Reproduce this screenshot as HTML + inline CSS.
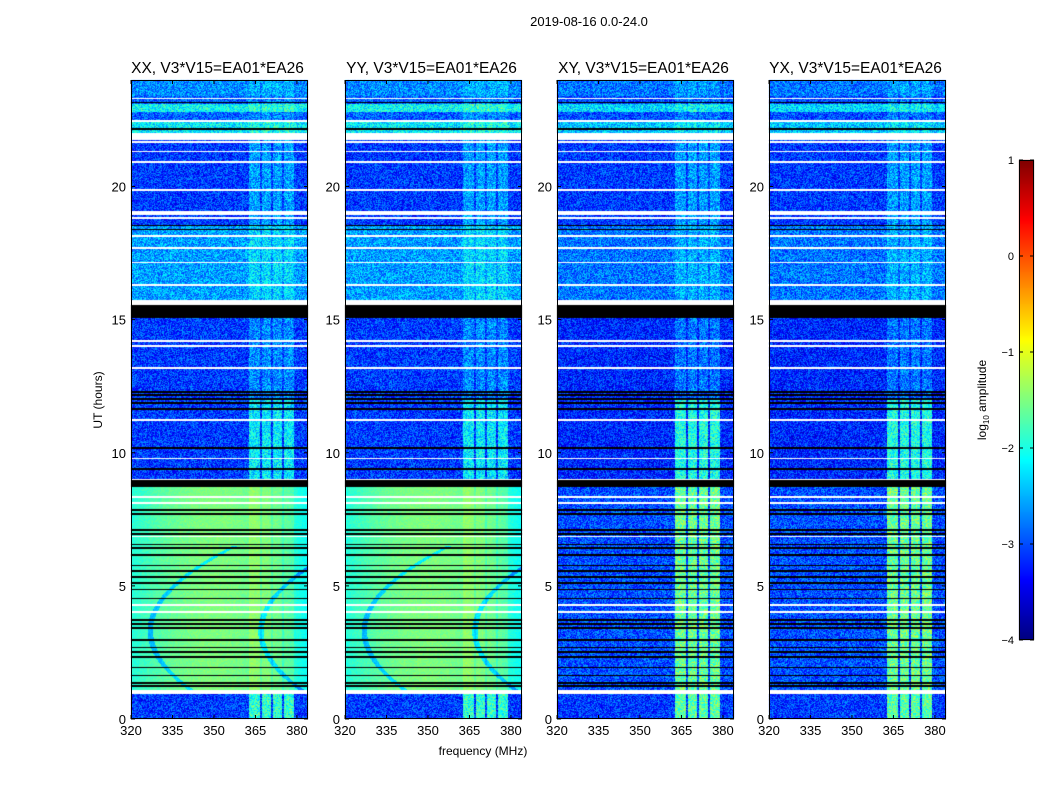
<!DOCTYPE html>
<html><head><meta charset="utf-8">
<style>
body{margin:0;background:#fff;width:1050px;height:800px;overflow:hidden;font-family:"Liberation Sans","DejaVu Sans",sans-serif;}
#root{position:relative;width:1050px;height:800px;}
canvas{position:absolute;}
svg{position:absolute;left:0;top:0;}
</style></head>
<body><div id="root">
<canvas id="cv" width="1050" height="800"></canvas>
<svg id="sv" width="1050" height="800"></svg>
</div>
<script>
// ---- data ----
const panelTitles = ["XX, V3*V15=EA01*EA26","YY, V3*V15=EA01*EA26","XY, V3*V15=EA01*EA26","YX, V3*V15=EA01*EA26"];
const panelIsCross = [false,false,true,true];
const xTicks = [320,335,350,365,380];
const yTicks = [0,5,10,15,20];
const cbTicks = [1,0,-1,-2,-3,-4];
// time segments (hours): start, end, parallel-hand level, cross-hand level, rfi boost par, rfi boost cross
const segStart = [23.4,23.1,22.8,22.5,22.0,18.55,15.74,12.0,9.0,1.1,0];
const segEnd   = [24,23.4,23.1,22.8,22.5,21.75,18.55,15.06,12.0,8.71,0.94];
const segPar   = [-2.7,-2.9,-2.1,-2.9,-2.2,-3.1,-2.6,-3.1,-3.1,-1.5,-3.1];
const segCross = [-2.8,-3.0,-2.3,-3.0,-2.4,-3.1,-2.8,-3.2,-3.2,-3.0,-3.1];
const segRfiPar   = [0.2,0.2,0.2,0.2,0.2,0.5,0.3,0.4,0.9,0.2,1.2];
const segRfiCross = [0.2,0.2,0.2,0.2,0.2,0.5,0.3,0.4,1.2,1.4,1.4];
// flagged lines (hours)
const whiteLines = [23.32,22.46,21.67,21.30,20.92,19.87,19.04,18.97,18.82,18.14,17.69,17.16,16.30,15.70,14.20,14.01,13.18,11.23,9.77,8.34,8.11,6.84,4.28,4.02];
const blackLines = [23.14,22.16,18.55,18.37,12.28,12.17,12.02,11.87,11.64,10.18,9.39,7.85,7.70,7.10,6.95,6.54,6.42,6.16,5.78,5.56,5.33,5.11,4.85,4.54,3.72,3.57,3.42,2.97,2.70,2.52,2.33,1.92,1.62,1.35,1.24];
const whiteBlocks = [[21.75,21.97],[15.55,15.65],[0.94,1.09]];
const blackBlocks = [[15.06,15.55],[8.71,8.98]];
// RFI frequency bands (MHz)
const rfiLo = [362.5,367.5,371.5,375.5];
const rfiHi = [366.5,370.5,374.5,379];

// ---- geometry ----
const panelLeft=[131,345,557,769], pW=177, pTop=80, pBot=719;
const fMin=320,fMax=384,tMin=0,tMax=24;
const xS=(f,i)=>panelLeft[i]+(f-fMin)/(fMax-fMin)*pW;
const yS=t=>pBot-(t-tMin)/(tMax-tMin)*(pBot-pTop);
const cbX=1019,cbW=15,cbTop=160,cbBot=640,vMin=-4,vMax=1;
const cbY=v=>cbBot-(v-vMin)/(vMax-vMin)*(cbBot-cbTop);

function jet(v){
  const c=x=>Math.max(0,Math.min(1,x));
  return [c(1.5-Math.abs(4*v-3)),c(1.5-Math.abs(4*v-2)),c(1.5-Math.abs(4*v-1))].map(a=>Math.round(a*255));
}
function hash(x,y){let h=(x*374761393+y*668265263)|0;h=(h^(h>>>13))*1274126177|0;return ((h^(h>>>16))>>>0)/4294967296;}

const ctx=document.getElementById('cv').getContext('2d');
const img=ctx.createImageData(1050,800);
function put(x,y,r,g,b){const k=(y*1050+x)*4;img.data[k]=r;img.data[k+1]=g;img.data[k+2]=b;img.data[k+3]=255;}
for(let p=0;p<4;p++){
  const cross=panelIsCross[p];
  for(let py=pTop;py<pBot;py++){
    const t=tMax-(py+0.5-pTop)/(pBot-pTop)*(tMax-tMin);
    let flag=null;
    for(const b of whiteBlocks) if(t>=b[0]&&t<=b[1]) flag='w';
    for(const b of blackBlocks) if(t>=b[0]&&t<=b[1]) flag='k';
    if(!flag){ for(const w of whiteLines) if(Math.abs(yS(w)-py-0.5)<0.6) flag='w';
      for(const w of blackLines) if(Math.abs(yS(w)-py-0.5)<0.6) flag='k';}
    let s=-1; for(let i=0;i<segStart.length;i++) if(t>=segStart[i]&&t<segEnd[i]){s=i;break;}
    if(!flag && s<0) flag='w';
    for(let px=panelLeft[p];px<panelLeft[p]+pW;px++){
      if(flag==='w'){put(px,py,255,255,255);continue;}
      if(flag==='k'){put(px,py,0,0,0);continue;}
      const f=fMin+(px+0.5-panelLeft[p])/pW*(fMax-fMin);
      let v=cross?segCross[s]:segPar[s];
      let inR=false; for(let j=0;j<rfiLo.length;j++) if(f>=rfiLo[j]&&f<=rfiHi[j]) inR=true;
      if(inR) v+=cross?segRfiCross[s]:segRfiPar[s];
      if(!cross && s===9){
        v+= -0.6*Math.pow(Math.abs((f-350)/34),2);
        const d1=Math.abs(f-(327+(t-3.3)*(t-3.3)*3.0)), d2=Math.abs(f-(367+(t-3.3)*(t-3.3)*3.0));
        if((d1<1.0||d2<1.0)&&t<6.5) v-=0.7;
        v+=(hash(px,py)-0.5)*0.25;
      } else v+=(hash(px*3+p,py)-0.5)*1.0;
      const u=Math.max(0,Math.min(1,(v-vMin)/(vMax-vMin)));
      const c=jet(u); put(px,py,c[0],c[1],c[2]);
    }
  }
}
for(let py=cbTop;py<cbBot;py++){const v=vMax-(py+0.5-cbTop)/(cbBot-cbTop)*(vMax-vMin);const c=jet((v-vMin)/(vMax-vMin));
  for(let px=cbX;px<cbX+cbW;px++) put(px,py,c[0],c[1],c[2]);}
ctx.putImageData(img,0,0);

// ---- axes ----
const sv=document.getElementById('sv');const NS='http://www.w3.org/2000/svg';
function el(tag,attrs,txt){const e=document.createElementNS(NS,tag);for(const k in attrs)e.setAttribute(k,attrs[k]);if(txt!=null)e.textContent=txt;sv.appendChild(e);return e;}
let e=el('text',{x:589,y:26,'font-size':13,'text-anchor':'middle'},'2019-08-16 0.0-24.0');


for(let p=0;p<4;p++){
  const L=panelLeft[p];
  e=el('rect',{x:L+0.5,y:pTop+0.5,width:pW-1,height:pBot-pTop-1,fill:'none',stroke:'#000','stroke-width':1});
  
  
  e=el('text',{x:L+pW/2-2,y:73,'font-size':15.5,'text-anchor':'middle'},panelTitles[p]);
  
  
  xTicks.forEach(f=>{const x=xS(f,p);
    el('line',{x1:x,x2:x,y1:pBot,y2:pBot-4,stroke:'#000'});el('line',{x1:x,x2:x,y1:pTop,y2:pTop+4,stroke:'#000'});
    e=el('text',{x:x,y:pBot+16,'font-size':13,'text-anchor':'middle'},String(f));
    
    });
  yTicks.forEach(t=>{const y=yS(t);
    el('line',{x1:L,x2:L+4,y1:y,y2:y,stroke:'#000'});el('line',{x1:L+pW,x2:L+pW-4,y1:y,y2:y,stroke:'#000'});
    e=el('text',{x:L-5,y:y+5,'font-size':13,'text-anchor':'end'},String(t));
    
    });
}
e=el('text',{x:483,y:755,'font-size':12,'text-anchor':'middle'},'frequency (MHz)');


e=el('text',{x:0,y:0,'font-size':12,'text-anchor':'middle',transform:'translate(102,400) rotate(-90)'},'UT (hours)');


e=el('rect',{x:cbX+0.5,y:cbTop+0.5,width:cbW-1,height:cbBot-cbTop-1,fill:'none',stroke:'#000'});


cbTicks.forEach(v=>{const y=cbY(v);
  el('line',{x1:cbX,x2:cbX+4,y1:y,y2:y,stroke:'#000'});el('line',{x1:cbX+cbW,x2:cbX+cbW-4,y1:y,y2:y,stroke:'#000'});
  e=el('text',{x:cbX-5,y:y+4,'font-size':11,'text-anchor':'end'},v<0?'\u2212'+(-v):String(v));
  
  });
e=el('text',{x:0,y:0,'font-size':12,'text-anchor':'middle',transform:'translate(986,400) rotate(-90)'},'');
e.innerHTML='log<tspan font-size="8" dy="3">10</tspan><tspan dy="-3"> amplitude</tspan>';


</script>
</body></html>
